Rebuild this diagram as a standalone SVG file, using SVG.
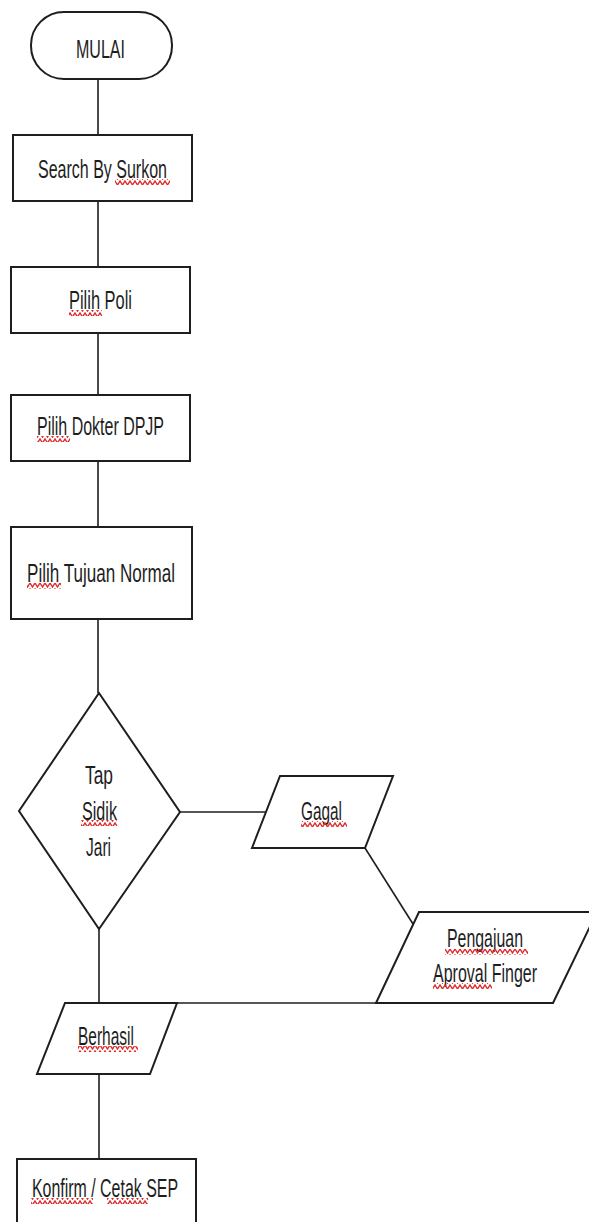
<svg xmlns="http://www.w3.org/2000/svg" width="589" height="1222" viewBox="0 0 589 1222">
<style>
.shape{fill:#fff;stroke:#1e1e1e;stroke-width:2}
.conn{fill:none;stroke:#1e1e1e;stroke-width:1.6}
.t{font-family:"Liberation Sans",Arial,sans-serif;font-size:25px;fill:#1e1e1e}
.sq{fill:url(#wave)}
</style>
<defs>
<pattern id="wave" patternUnits="userSpaceOnUse" width="5" height="6">
<path d="M-1.25,3 L0,1 L2.5,5 L5,1 L6.25,3" fill="none" stroke="#e02828" stroke-width="1.4"/>
</pattern>
</defs>
<rect width="589" height="1222" fill="#fff"/>
<g id="connectors">
<line class="conn" x1="98" y1="79" x2="98" y2="135"/>
<line class="conn" x1="98" y1="201" x2="98" y2="267"/>
<line class="conn" x1="98" y1="333" x2="98" y2="395"/>
<line class="conn" x1="98" y1="461" x2="98" y2="527"/>
<line class="conn" x1="98" y1="619" x2="98" y2="693"/>
<line class="conn" x1="180" y1="812" x2="267" y2="812"/>
<line class="conn" x1="365" y1="848" x2="413" y2="924"/>
<line class="conn" x1="177" y1="1003" x2="376" y2="1003"/>
<line class="conn" x1="99" y1="929" x2="99" y2="1003"/>
<line class="conn" x1="99" y1="1074" x2="99" y2="1159"/>
</g>
<g id="mulai">
<rect class="shape" x="31" y="12" width="141" height="67" rx="33" ry="33"/>
<text class="t" x="76" y="58" textLength="49" lengthAdjust="spacingAndGlyphs">MULAI</text>
</g>
<g id="search">
<rect class="shape" x="13" y="135" width="179" height="66"/>
<text class="t" x="38" y="178" textLength="129" lengthAdjust="spacingAndGlyphs">Search By Surkon</text>
<rect class="sq" x="115" y="179" width="55" height="6"/>
</g>
<g id="poli">
<rect class="shape" x="11" y="267" width="179" height="66"/>
<text class="t" x="69" y="309" textLength="63" lengthAdjust="spacingAndGlyphs">Pilih Poli</text>
<rect class="sq" x="69" y="310" width="33" height="6"/>
</g>
<g id="dokter">
<rect class="shape" x="11" y="395" width="179" height="66"/>
<text class="t" x="37" y="435" textLength="127" lengthAdjust="spacingAndGlyphs">Pilih Dokter DPJP</text>
<rect class="sq" x="37" y="436" width="33" height="6"/>
</g>
<g id="tujuan">
<rect class="shape" x="11" y="527" width="181" height="92"/>
<text class="t" x="27" y="582" textLength="148" lengthAdjust="spacingAndGlyphs">Pilih Tujuan Normal</text>
<rect class="sq" x="27" y="583" width="34" height="6"/>
</g>
<g id="tap">
<polygon class="shape" points="99,693 180,812 99,929 19,811"/>
<text class="t" x="85" y="784" textLength="28" lengthAdjust="spacingAndGlyphs">Tap</text>
<text class="t" x="82" y="820" textLength="35" lengthAdjust="spacingAndGlyphs">Sidik</text>
<rect class="sq" x="81" y="820" width="36" height="6"/>
<text class="t" x="86" y="856" textLength="25" lengthAdjust="spacingAndGlyphs">Jari</text>
</g>
<g id="gagal">
<polygon class="shape" points="280,776 393,776 365,848 252,848"/>
<text class="t" x="301" y="820" textLength="41" lengthAdjust="spacingAndGlyphs">Gagal</text>
<rect class="sq" x="301" y="821" width="46" height="6"/>
</g>
<g id="pengajuan">
<polygon class="shape" points="419,912 597,912 553,1003 376,1003"/>
<text class="t" x="447" y="947" textLength="76" lengthAdjust="spacingAndGlyphs">Pengajuan</text>
<rect class="sq" x="445" y="949" width="83" height="6"/>
<text class="t" x="433" y="982" textLength="104" lengthAdjust="spacingAndGlyphs">Aproval Finger</text>
<rect class="sq" x="433" y="983" width="59" height="6"/>
</g>
<g id="berhasil">
<polygon class="shape" points="65,1003 177,1003 150,1074 37,1074"/>
<text class="t" x="78" y="1045" textLength="56" lengthAdjust="spacingAndGlyphs">Berhasil</text>
<rect class="sq" x="78" y="1046" width="60" height="6"/>
</g>
<g id="konfirm">
<rect class="shape" x="17" y="1159" width="179" height="80"/>
<text class="t" x="32" y="1197" textLength="146" lengthAdjust="spacingAndGlyphs">Konfirm / Cetak SEP</text>
<rect class="sq" x="31" y="1198" width="62" height="6"/>
<rect class="sq" x="107" y="1198" width="41" height="6"/>
</g>
</svg>
